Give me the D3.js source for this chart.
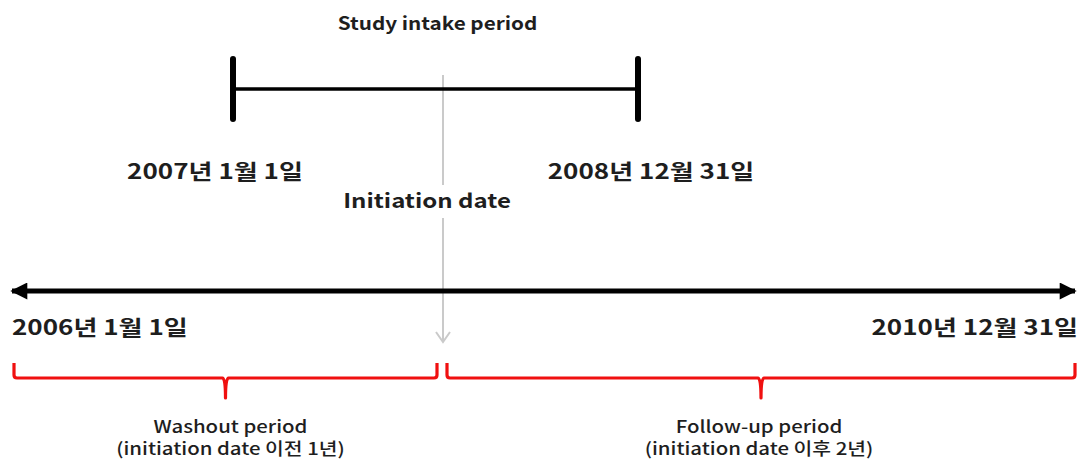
<!DOCTYPE html>
<html>
<head>
<meta charset="utf-8">
<script src="https://cdn.jsdelivr.net/npm/d3@7"></script>
<style>
  body { margin: 0; background: #fff; }
  svg text { font-family: "Noto Sans CJK KR", "Noto Sans", sans-serif; fill: #1e1e1e; }
</style>
</head>
<body>
<div id="chart"></div>
<script>
// key dates of the study design (schematic, not to scale)
const keyDates = ["2006-01-01", "2007-01-01", "2008-01-01", "2008-12-31", "2010-12-31"];
const keyLabels = ["2006년 1월 1일", "2007년 1월 1일", "Initiation date", "2008년 12월 31일", "2010년 12월 31일"];
const intakePeriod = ["2007-01-01", "2008-12-31"];
const intakeTitle = "Study intake period";
const initiationDate = "2008-01-01";
const periods = [["2006-01-01", "2008-01-01"], ["2008-01-01", "2010-12-31"]];
const periodNames = ["Washout period", "Follow-up period"];
const periodNotes = ["(initiation date 이전 1년)", "(initiation date 이후 2년)"];

const width = 1085, height = 460;
const parse = d3.utcParse("%Y-%m-%d");

// piecewise time scale: the drawing is a schematic so segments are stretched
const x = d3.scaleUtc()
  .domain(keyDates.map(parse))
  .range([12, 233, 443, 638, 1075]);

const y = { title: 30, intake: 89, dates: 179, init: 208, line: 291, ends: 335, brace: 378, name: 433, note: 455 };

const svg = d3.select("#chart")
  .append("svg")
  .attr("width", width)
  .attr("height", height);

// the source picture is stretched sideways, so text gets a horizontal scale
const label = (px, py, str, size, weight, anchor, sx) => {
  svg.append("g")
    .attr("transform", `translate(${px},${py}) scale(${sx},1)`)
    .append("text")
    .attr("text-anchor", anchor)
    .style("font-size", size + "px")
    .style("font-weight", weight)
    .text(str);
};

const defs = svg.append("defs");
defs.append("marker")
  .attr("id", "head")
  .attr("viewBox", "0 0 10 10")
  .attr("refX", 9).attr("refY", 5)
  .attr("markerWidth", 4.2).attr("markerHeight", 3.4)
  .attr("markerUnits", "strokeWidth")
  .attr("orient", "auto-start-reverse")
  .append("path")
  .attr("d", "M0,0 L10,5 L0,10 z")
  .attr("fill", "#000");

// gray initiation arrow
const xi = x(parse(initiationDate));
svg.append("line")
  .attr("x1", xi).attr("x2", xi)
  .attr("y1", 75).attr("y2", 342)
  .attr("stroke", "#cacaca")
  .attr("stroke-width", 2);
svg.append("path")
  .attr("d", `M${xi - 7},${332} L${xi},${342} L${xi + 7},${332}`)
  .attr("fill", "none")
  .attr("stroke", "#cacaca")
  .attr("stroke-width", 2);

// study intake bar
const i0 = x(parse(intakePeriod[0])), i1 = x(parse(intakePeriod[1]));
svg.append("line")
  .attr("x1", i0).attr("x2", i1)
  .attr("y1", y.intake).attr("y2", y.intake)
  .attr("stroke", "#000").attr("stroke-width", 3.5);
svg.selectAll("line.cap")
  .data(intakePeriod)
  .enter()
  .append("line")
  .attr("class", "cap")
  .attr("x1", d => x(parse(d))).attr("x2", d => x(parse(d)))
  .attr("y1", y.intake - 30).attr("y2", y.intake + 30)
  .attr("stroke", "#000")
  .attr("stroke-width", 6)
  .attr("stroke-linecap", "round");

label((i0 + i1) / 2 + 2, y.title, intakeTitle, 18, 700, "middle", 1.15);

// intake dates
label(x(parse(keyDates[1])) - 18, y.dates, keyLabels[1], 21, 700, "middle", 1.24);
label(x(parse(keyDates[3])) + 13, y.dates, keyLabels[3], 21, 700, "middle", 1.24);

// initiation date label on a white backing that breaks the gray line
svg.append("rect")
  .attr("x", xi - 14).attr("y", y.init - 23)
  .attr("width", 28).attr("height", 33)
  .attr("fill", "#fff");
label(xi - 16, y.init, keyLabels[2], 20, 700, "middle", 1.2);

// main timeline
const t0 = x(parse(keyDates[0])), t1 = x(parse(keyDates[4]));
svg.append("line")
  .attr("x1", t0).attr("x2", t1)
  .attr("y1", y.line).attr("y2", y.line)
  .attr("stroke", "#000")
  .attr("stroke-width", 5)
  .attr("marker-start", "url(#head)")
  .attr("marker-end", "url(#head)");

label(t0, y.ends, keyLabels[0], 21, 700, "start", 1.24);
label(t1 + 3, y.ends, keyLabels[4], 21, 700, "end", 1.24);

// red braces
const brace = (a, b) => {
  const c = (a + b) / 2, top = y.brace - 15, r = 3;
  return `M${a},${top} L${a},${y.brace - r} Q${a},${y.brace} ${a + r},${y.brace} ` +
    `L${c - r},${y.brace} Q${c},${y.brace} ${c},${y.brace + 20} ` +
    `Q${c},${y.brace} ${c + r},${y.brace} L${b - r},${y.brace} ` +
    `Q${b},${y.brace} ${b},${y.brace - r} L${b},${top}`;
};
const gap = [[2, -6], [4, 0]];
svg.selectAll("path.brace")
  .data(periods)
  .enter()
  .append("path")
  .attr("class", "brace")
  .attr("d", (d, i) => brace(x(parse(d[0])) + gap[i][0], x(parse(d[1])) + gap[i][1]))
  .attr("fill", "none")
  .attr("stroke", "#f01010")
  .attr("stroke-width", 3.2)
  .attr("stroke-linejoin", "round");

periods.forEach((d, i) => {
  const cx = (x(parse(d[0])) + x(parse(d[1]))) / 2 + (i === 0 ? 3 : 0);
  label(cx, y.name, periodNames[i], 17, 500, "middle", 1.2);
  label(cx, y.note, periodNotes[i], 17, 500, "middle", 1.2);
});
</script>
</body>
</html>
